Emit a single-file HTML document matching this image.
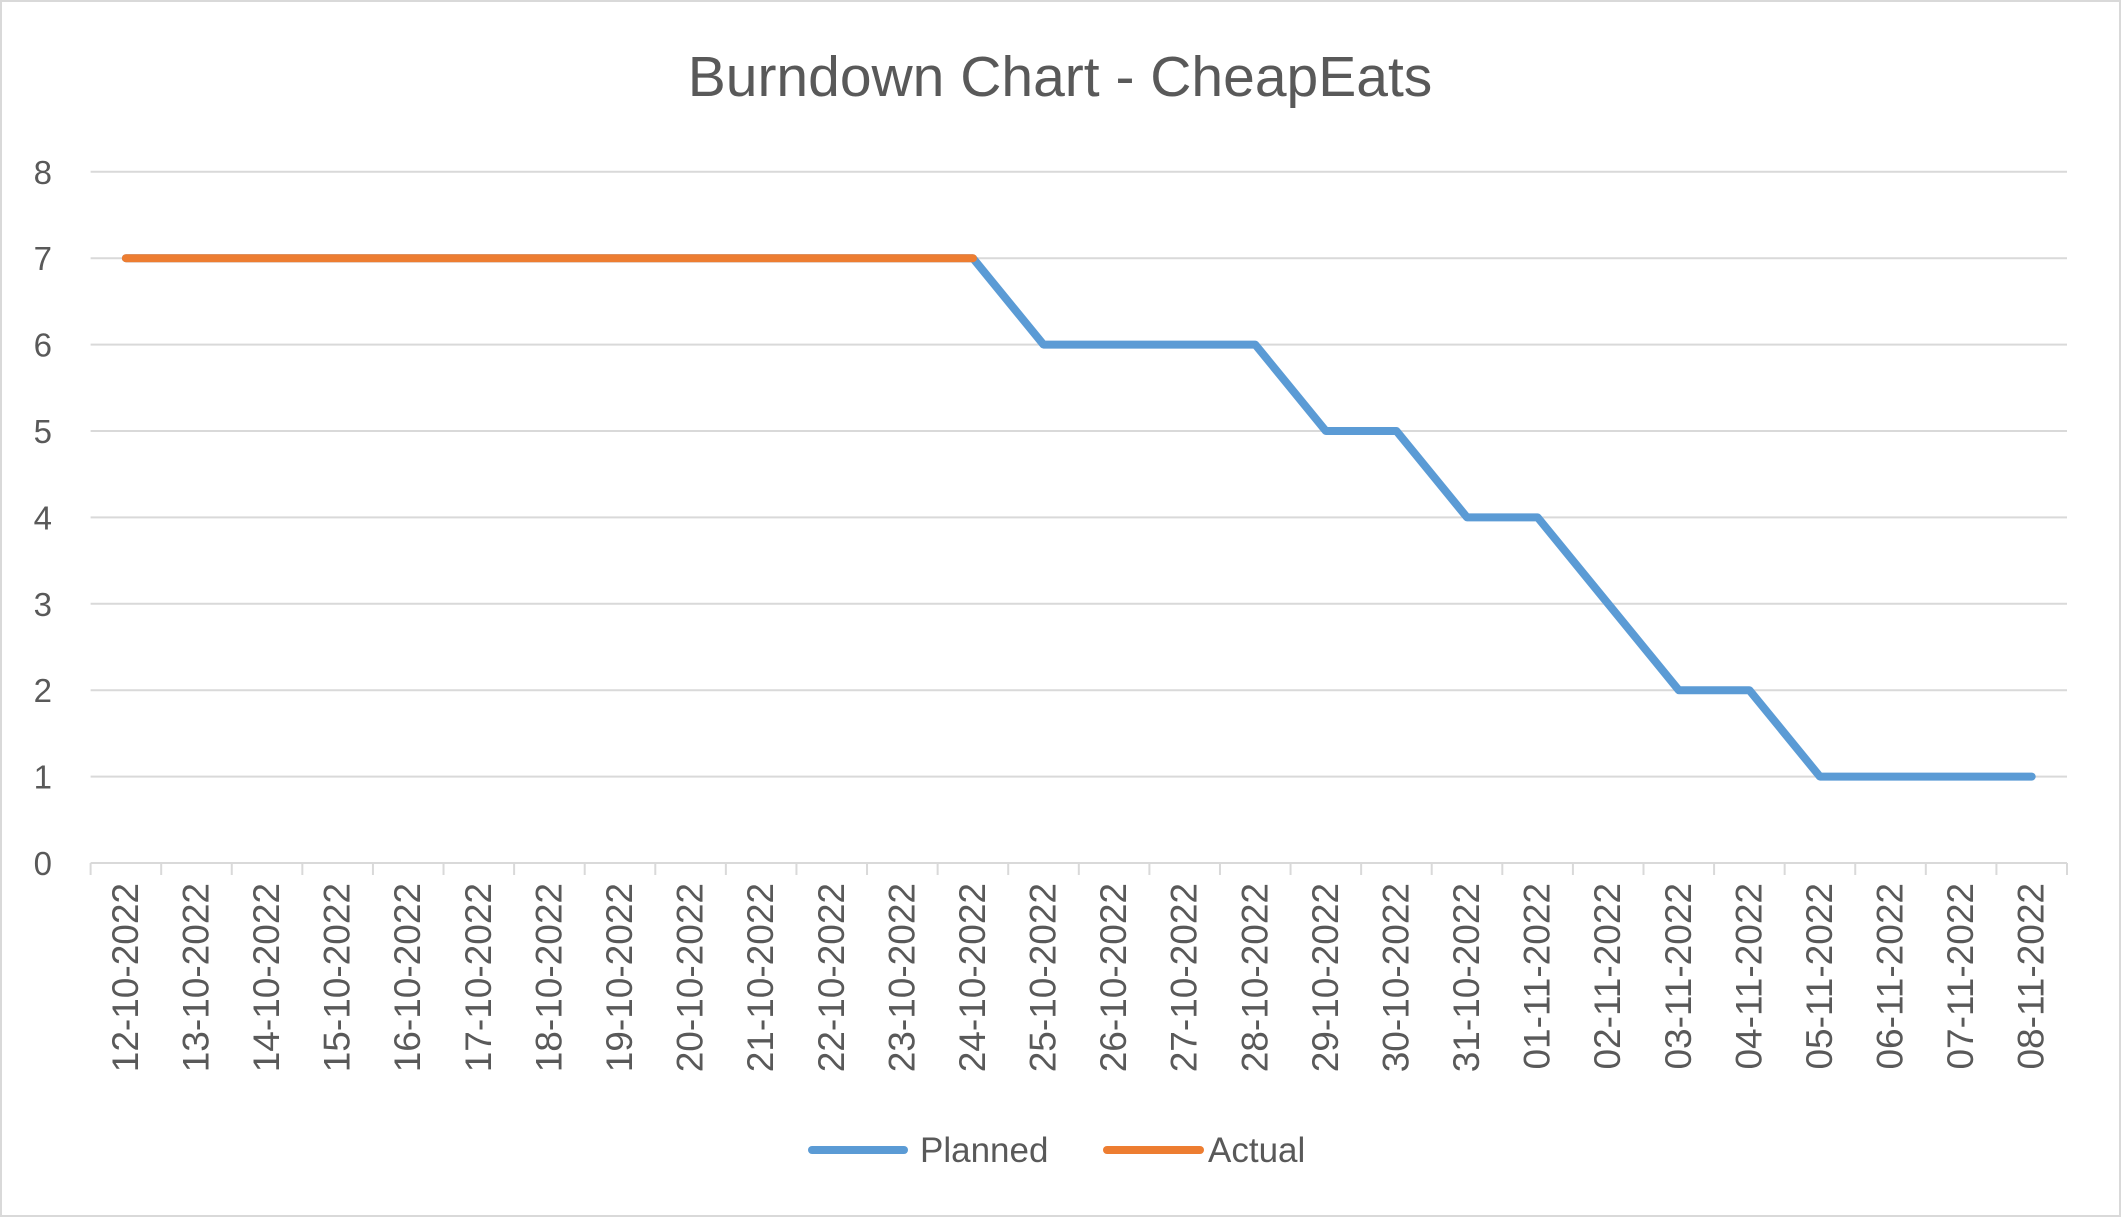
<!DOCTYPE html>
<html><head><meta charset="utf-8"><style>
html,body{margin:0;padding:0;background:#fff;}
svg{display:block;font-family:"Liberation Sans",sans-serif;}
</style></head><body>
<svg id="chart" width="2121" height="1217" viewBox="0 0 2121 1217">
<rect x="1" y="1" width="2119" height="1215" fill="#fff" stroke="#d9d9d9" stroke-width="2"/>
<text x="1060" y="96" text-anchor="middle" font-size="57" fill="#595959">Burndown Chart - CheapEats</text>
<g id="grid"></g><g id="xaxis"></g><g id="lines"></g>
<g>
<line x1="812" y1="1150" x2="904" y2="1150" stroke="#5B9BD5" stroke-width="8" stroke-linecap="round"/>
<text x="920" y="1162" font-size="35" fill="#595959">Planned</text>
<line x1="1107" y1="1150" x2="1200" y2="1150" stroke="#ED7D31" stroke-width="8" stroke-linecap="round"/>
<text x="1208" y="1162" font-size="35" fill="#595959">Actual</text>
</g>
</svg>
<script>
const categories=["12-10-2022","13-10-2022","14-10-2022","15-10-2022","16-10-2022","17-10-2022","18-10-2022","19-10-2022","20-10-2022","21-10-2022","22-10-2022","23-10-2022","24-10-2022","25-10-2022","26-10-2022","27-10-2022","28-10-2022","29-10-2022","30-10-2022","31-10-2022","01-11-2022","02-11-2022","03-11-2022","04-11-2022","05-11-2022","06-11-2022","07-11-2022","08-11-2022"];
const planned=[7,7,7,7,7,7,7,7,7,7,7,7,7,6,6,6,6,5,5,4,4,3,2,2,1,1,1,1];
const actual=[7,7,7,7,7,7,7,7,7,7,7,7,7,null,null,null,null,null,null,null,null,null,null,null,null,null,null,null];
const yTicks=[0,1,2,3,4,5,6,7,8];
const NS="http://www.w3.org/2000/svg";
const L=90.6,R=2067,T=171.8,B=863,yMax=8;
const bw=(R-L)/categories.length;
const xs=i=>L+bw*(i+0.5);
const ys=v=>B-(v/yMax)*(B-T);
function mk(tag,attrs,parent){const e=document.createElementNS(NS,tag);for(const k in attrs)e.setAttribute(k,attrs[k]);parent.appendChild(e);return e;}
const grid=document.getElementById('grid');
yTicks.forEach(v=>{
  if(v>0){const g=mk('line',{x1:L,x2:R,y1:ys(v),y2:ys(v),stroke:'#d9d9d9','stroke-width':2},grid);
  
  }
  const t=mk('text',{x:52,y:ys(v)+12,'text-anchor':'end','font-size':33,fill:'#595959'},grid);
  t.textContent=v;
  
  
});
const xa=document.getElementById('xaxis');
const ax=mk('line',{x1:L,x2:R,y1:B,y2:B,stroke:'#d9d9d9','stroke-width':2},xa);


for(let i=0;i<=categories.length;i++){
  const tk=mk('line',{x1:L+bw*i,x2:L+bw*i,y1:B,y2:B+12,stroke:'#d9d9d9','stroke-width':2},xa);
  
  
}
categories.forEach((c,i)=>{
  const x=xs(i)+12,y=B+20;
  const t=mk('text',{x:x,y:y,'text-anchor':'end','font-size':37,fill:'#595959',transform:`rotate(-90 ${x} ${y})`},xa);
  t.textContent=c;
  
  
});
const lines=document.getElementById('lines');
function path(arr,color,name){
  let d='',started=false;
  arr.forEach((v,i)=>{if(v==null){started=false;return;}d+=(started?'L':'M')+xs(i)+' '+ys(v)+' ';started=true;});
  const p=mk('path',{d:d,fill:'none',stroke:color,'stroke-width':8,'stroke-linejoin':'round','stroke-linecap':'round'},lines);
  
  
}
path(planned,'#5B9BD5','planned-line');
path(actual,'#ED7D31','actual-line');
</script>
</body></html>
